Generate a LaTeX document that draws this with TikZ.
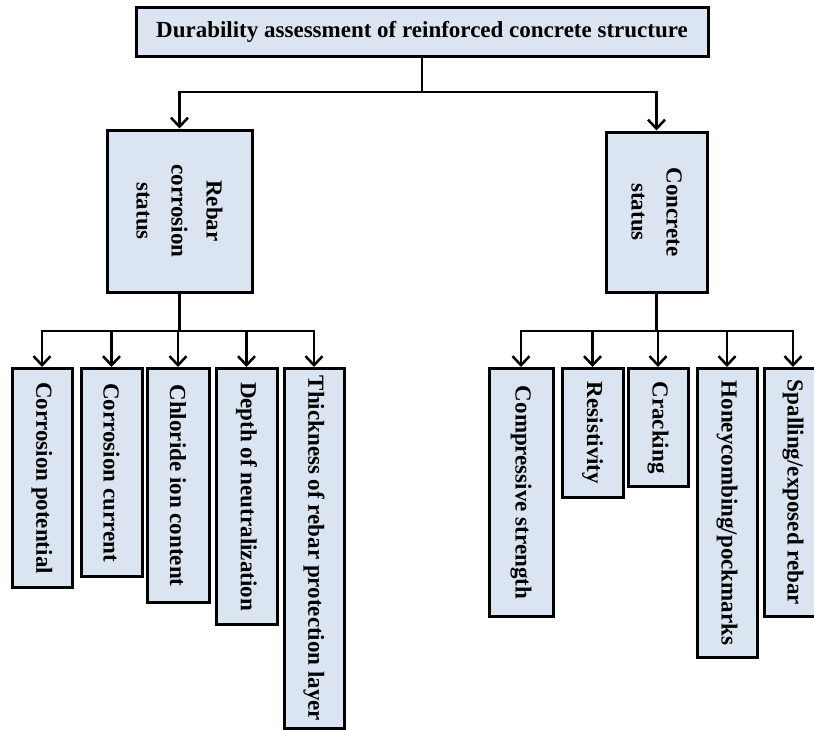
\documentclass[tikz,border=0pt]{standalone}
\usepackage{fontspec}
\setmainfont{Liberation Serif}
\usetikzlibrary{arrows.meta}

\definecolor{boxFill}{HTML}{DBE5F1}
\tikzstyle{topNode}=[draw,line width=3pt,fill=boxFill,minimum width=572pt,minimum height=49pt,font=\fontsize{23}{28}\selectfont\bfseries]
\tikzstyle{midNode}=[draw,line width=3pt,fill=boxFill,rotate=-90,align=center,font=\fontsize{23}{35}\selectfont\bfseries]
\tikzstyle{leafNode}=[draw,line width=3pt,fill=boxFill,rotate=-90,anchor=west,inner sep=0pt,font=\fontsize{23}{28}\selectfont\bfseries]
\tikzstyle{link}=[draw,line width=2.5pt,line join=miter]
\tikzstyle{arrowLink}=[draw,line width=2.5pt,line join=miter,-{Straight Barb[length=9pt,width=17pt]}]

\begin{document}
\begin{tikzpicture}[x=1pt,y=-1pt]
  \useasboundingbox (0,0) rectangle (814,729);

  \node[topNode] (dur) at (422,31.5) {Durability assessment of reinforced concrete structure};

  \node[midNode,minimum width=162pt,minimum height=145pt] (rebar) at (179.5,211) {Rebar\\corrosion\\status};
  \node[midNode,minimum width=160pt,minimum height=101pt] (conc) at (656.5,212) {Concrete\\status};

  \node[leafNode,minimum width=219pt,minimum height=60pt] (potential) at (42,367) {Corrosion potential};
  \node[leafNode,minimum width=208pt,minimum height=61pt] (current) at (111.5,367) {Corrosion current};
  \node[leafNode,minimum width=234pt,minimum height=62pt] (chloride) at (178,367) {Chloride ion content};
  \node[leafNode,minimum width=256pt,minimum height=61pt] (neutral) at (246.5,367) {Depth of neutralization};
  \node[leafNode,minimum width=360pt,minimum height=60pt] (cover) at (314,367) {Thickness of rebar protection layer};

  \node[leafNode,minimum width=248pt,minimum height=64pt] (strength) at (521,367) {Compressive strength};
  \node[leafNode,minimum width=129pt,minimum height=61pt] (resist) at (592.5,367) {Resistivity};
  \node[leafNode,minimum width=118pt,minimum height=60pt] (crack) at (658,367) {Cracking};
  \node[leafNode,minimum width=289pt,minimum height=60pt] (honey) at (727,367) {Honeycombing/pockmarks};
  \node[leafNode,minimum width=248pt,minimum height=58pt] (spall) at (793,367) {Spalling/exposed rebar};

  \coordinate (topBus) at (422,92);
  \coordinate (leftBus) at (179.5,331);
  \coordinate (rightBus) at (656.5,331);

  \path[link](dur.south)--(topBus);
  \path[arrowLink](topBus)-|(rebar.west);
  \path[arrowLink](topBus)-|(conc.west);

  \path[link](rebar.east)--(leftBus);
  \path[arrowLink](leftBus)-|(potential.west);
  \path[arrowLink](leftBus)-|(current.west);
  \path[arrowLink](leftBus)-|(chloride.west);
  \path[arrowLink](leftBus)-|(neutral.west);
  \path[arrowLink](leftBus)-|(cover.west);

  \path[link](conc.east)--(rightBus);
  \path[arrowLink](rightBus)-|(strength.west);
  \path[arrowLink](rightBus)-|(resist.west);
  \path[arrowLink](rightBus)-|(crack.west);
  \path[arrowLink](rightBus)-|(honey.west);
  \path[arrowLink](rightBus)-|(spall.west);

\end{tikzpicture}
\end{document}
